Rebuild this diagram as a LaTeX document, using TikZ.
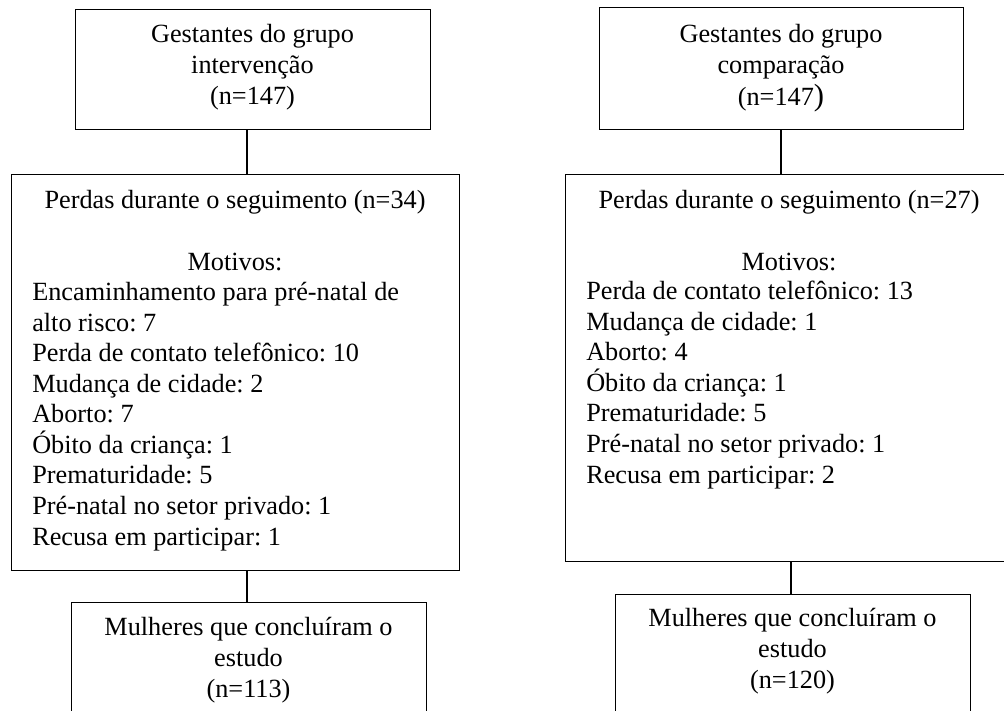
\documentclass[tikz,border=0pt]{standalone}
\usepackage{fontspec}
\setmainfont{Liberation Serif}
\frenchspacing

\begin{document}
\begin{tikzpicture}[x=0.75pt,y=0.75pt,yscale=-1,xscale=1,
  box/.style={draw, line width=0.75pt, inner sep=0pt, rectangle},
  txt/.style={inner sep=0pt, font=\fontsize{19.7}{22.9}\selectfont}]
%set diagram to the page: 1004 x 711
\useasboundingbox (0,0) rectangle (1004,711);
\clip (0,0) rectangle (1004,711);

%Shape: Rectangle [id:intTop]
\node [box, minimum width=266.25pt, minimum height=90pt] (intTop) at (252.5,69) {};
%Shape: Rectangle [id:intLoss]
\node [box, minimum width=336pt, minimum height=297pt] (intLoss) at (235,372) {};
%Shape: Rectangle [id:intEnd]
\node [box, minimum width=266.25pt, minimum height=96pt] (intEnd) at (248.5,666) {};
%Shape: Rectangle [id:cmpTop]
\node [box, minimum width=273pt, minimum height=91.5pt] (cmpTop) at (781,68) {};
%Shape: Rectangle [id:cmpLoss]
\node [box, minimum width=336pt, minimum height=290.25pt] (cmpLoss) at (789,367.5) {};
%Shape: Rectangle [id:cmpEnd]
\node [box, minimum width=266.25pt, minimum height=102pt] (cmpEnd) at (792.5,662) {};

%Straight Lines [id:intTop-intLoss]
\draw [line width=0.9pt] ([xshift=-4.125pt]intTop.south) -- ([xshift=-4.125pt]intTop.south |- intLoss.north) ;
%Straight Lines [id:intLoss-intEnd]
\draw [line width=0.9pt] ([xshift=9pt]intLoss.south) -- ([xshift=9pt]intLoss.south |- intEnd.north) ;
%Straight Lines [id:cmpTop-cmpLoss]
\draw [line width=0.9pt] (cmpTop.south) -- (cmpTop.south |- cmpLoss.north) ;
%Straight Lines [id:cmpLoss-cmpEnd]
\draw [line width=0.9pt] ([xshift=1.5pt]cmpLoss.south) -- ([xshift=1.5pt]cmpLoss.south |- cmpEnd.north) ;

% Text Node
\node [txt, anchor=base, align=center] (intTopTxt) at (252.5,104) {Gestantes do grupo\\intervenção\\(n=147)};
% Text Node
\node [txt, anchor=base, align=center] (intLossHead) at (235,270) {Perdas durante o seguimento (n=34)\\[22.9pt]Motivos:};
% Text Node
\node [txt, anchor=base west, align=left] (intLossList) at (32,545) {Encaminhamento para pré-natal de\\alto risco: 7\\Perda de contato telefônico: 10\\Mudança de cidade: 2\\Aborto: 7\\Óbito da criança: 1\\Prematuridade: 5\\Pré-natal no setor privado: 1\\Recusa em participar: 1};
% Text Node
\node [txt, anchor=base, align=center] (intEndTxt) at (248.5,697) {Mulheres que concluíram o\\estudo\\(n=113)};

% Text Node
\node [txt, anchor=base, align=center] (cmpTopTxt) at (781,105) {Gestantes do grupo\\comparação\\[1pt](n=147{\fontsize{23}{23}\selectfont )}};
% Text Node
\node [txt, anchor=base, align=center] (cmpLossHead) at (789,270) {Perdas durante o seguimento (n=27)\\[22.9pt]Motivos:};
% Text Node
\node [txt, anchor=base west, align=left] (cmpLossList) at (586,483) {Perda de contato telefônico: 13\\Mudança de cidade: 1\\Aborto: 4\\Óbito da criança: 1\\Prematuridade: 5\\Pré-natal no setor privado: 1\\Recusa em participar: 2};
% Text Node
\node [txt, anchor=base, align=center] (cmpEndTxt) at (792.5,688) {Mulheres que concluíram o\\estudo\\(n=120)};

\end{tikzpicture}
\end{document}
